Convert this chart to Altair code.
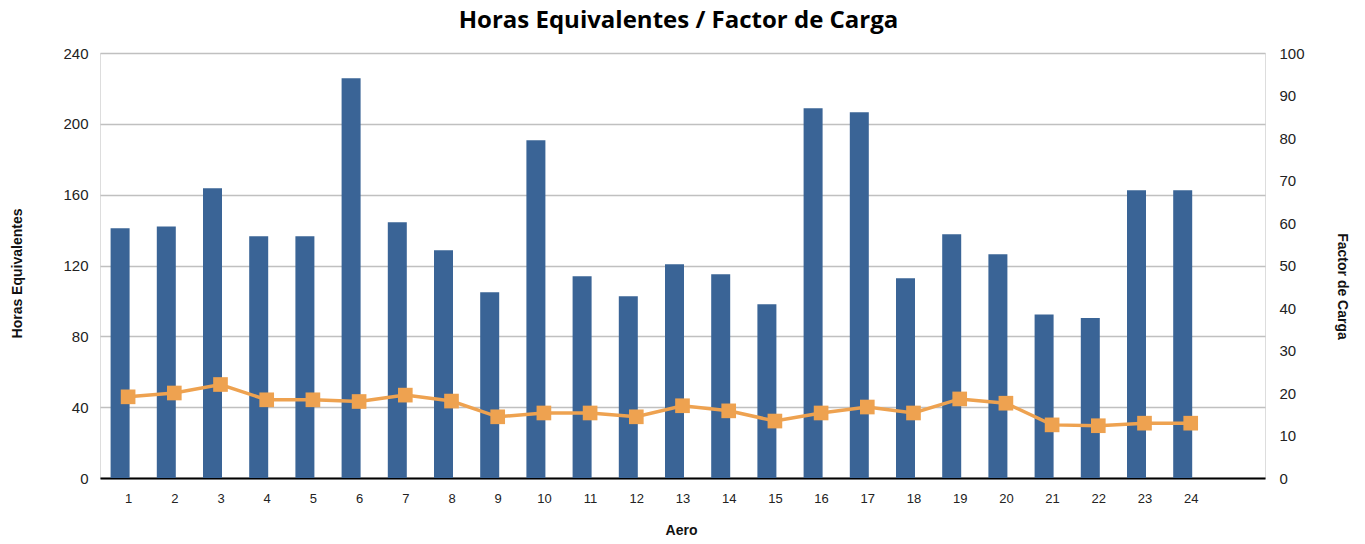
import altair as alt
import pandas as pd

aero = list(range(1, 25))
horas = [141, 142, 163.6, 136.5, 136.5, 225.7, 144.4, 128.6, 104.9, 190.7, 113.9, 102.6,
         120.7, 115.0, 98.1, 208.8, 206.5, 112.8, 137.6, 126.3, 92.4, 90.3, 162.5, 162.5]
factor = [19.1, 20.0, 22.0, 18.4, 18.4, 18.0, 19.5, 18.1, 14.4, 15.3, 15.3, 14.4,
          17.0, 15.8, 13.4, 15.3, 16.7, 15.3, 18.6, 17.6, 12.5, 12.3, 12.9, 12.9]
left_ticks = [0, 40, 80, 120, 160, 200, 240]
right_ticks = [0, 10, 20, 30, 40, 50, 60, 70, 80, 90, 100]

df = pd.DataFrame({"Aero": aero, "Horas": horas, "Factor": factor})

FONT = "Liberation Sans"
BAR = "#3A6496"
ORANGE = "#EEA250"

xenc = alt.X("Aero:Q", scale=alt.Scale(domain=[0.5, 25.5], nice=False, zero=False),
             axis=alt.Axis(values=aero, title="Aero", grid=False, ticks=False,
                           domain=True, domainColor="#000000", domainWidth=2,
                           labelFont=FONT, labelFontSize=13, labelColor="#222222",
                           labelPadding=14, labelFlush=False,
                           titleFont=FONT, titleFontSize=14, titleFontWeight="bold",
                           titleColor="#111111", titleX=581, titleY=52,
                           titleBaseline="middle", titleAlign="center"))

bars = alt.Chart(df).mark_bar(size=19, xOffset=-8, color=BAR).encode(
    x=xenc,
    y=alt.Y("Horas:Q", scale=alt.Scale(domain=[0, 240], nice=False),
            axis=alt.Axis(values=left_ticks, title="Horas Equivalentes", orient="left",
                          grid=True, gridColor="#C0C0C0", gridWidth=1.5,
                          ticks=False, domain=False,
                          labelFont=FONT, labelFontSize=15, labelColor="#222222",
                          labelPadding=12,
                          titleFont=FONT, titleFontSize=14, titleFontWeight="bold",
                          titleColor="#111111", titleAngle=-90, titleX=-83, titleY=220,
                          titleBaseline="middle", titleAlign="center")),
)

line = alt.Chart(df).mark_line(
    color=ORANGE, strokeWidth=3.5,
    point=alt.OverlayMarkDef(shape="square", size=215, filled=True, color=ORANGE, opacity=1),
).encode(
    x=alt.X("Aero:Q"),
    y=alt.Y("Factor:Q", scale=alt.Scale(domain=[0, 100], nice=False),
            axis=alt.Axis(values=right_ticks, title="Factor de Carga", orient="right",
                          grid=False, ticks=False, domain=False,
                          labelFont=FONT, labelFontSize=15, labelColor="#222222",
                          labelPadding=14,
                          titleFont=FONT, titleFontSize=14, titleFontWeight="bold",
                          titleColor="#111111", titleAngle=90, titleX=76, titleY=233,
                          titleBaseline="middle", titleAlign="center")),
)

chart = alt.layer(bars, line).resolve_scale(y="independent").properties(
    width=1165,
    height=425,
    autosize=alt.AutoSizeParams(type="none"),
    padding={"left": 92, "top": 45, "right": 90, "bottom": 58},
    title=alt.Title("Horas Equivalentes / Factor de Carga", font="Open Sans",
                    fontSize=24, fontWeight="bold", color="#000000",
                    anchor="middle", frame="group", baseline="alphabetic",
                    offset=0, dx=-4, dy=6),
).configure_view(stroke=None).configure(background="#FFFFFF")

chart.save("out.html", embed_options={"renderer": "svg", "actions": False})
